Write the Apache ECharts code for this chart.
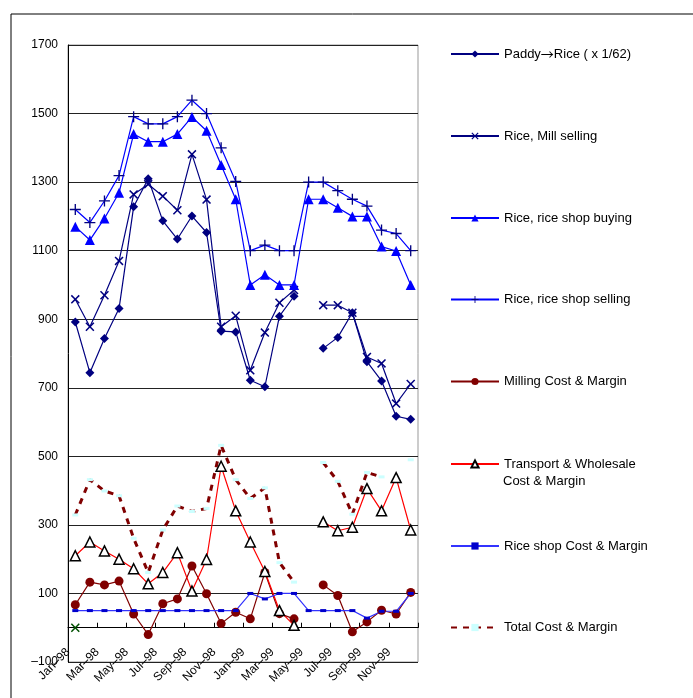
<!DOCTYPE html>
<html><head><meta charset="utf-8">
<script src="https://cdn.jsdelivr.net/npm/echarts@6/dist/echarts.min.js"></script>
<style>html,body{margin:0;padding:0;background:#fff}#c{width:693px;height:698px}</style>
</head><body><div id="c"></div>
<script>
// ---- data ----
const months = ['Jan-98','Feb-98','Mar-98','Apr-98','May-98','Jun-98','Jul-98','Aug-98','Sep-98','Oct-98','Nov-98','Dec-98',
                'Jan-99','Feb-99','Mar-99','Apr-99','May-99','Jun-99','Jul-99','Aug-99','Sep-99','Oct-99','Nov-99','Dec-99'];
const paddyRice    = [892, 744, 844, 931, 1228, 1310, 1187, 1134, 1201, 1153, 865, 863, 722, 703, 909, 967, null, 815, 847, 919, 776, 720, 617, 608];
const millSelling  = [958, 878, 970, 1070, 1264, 1294, 1259, 1218, 1381, 1249, 878, 910, 751, 861, 948, 985, null, 941, 941, 919, 790, 771, 654, 711];
const shopBuying   = [1170, 1131, 1194, 1269, 1440, 1418, 1418, 1440, 1490, 1450, 1350, 1250, 1000, 1030, 1000, 1000, 1250, 1250, 1225, 1200, 1200, 1112, 1099, 1000];
const shopSelling  = [1220, 1182, 1245, 1319, 1491, 1470, 1470, 1491, 1539, 1500, 1400, 1302, 1100, 1116, 1100, 1100, 1300, 1300, 1275, 1250, 1230, 1160, 1150, 1100];
const millingCM    = [67, 133, 125, 136, 40, -20, 70, 84, 180, 99, 12, 45, 26, 161, 41, 26, null, 125, 94, -12, 17, 51, 40, 103];
const transportCM  = [210, 250, 224, 200, 172, 128, 161, 219, 107, 199, 471, 341, 250, 164, 50, 7, null, 309, 283, 293, 406, 341, 438, 285];
const shopCM       = [50, 50, 50, 50, 50, 50, 50, 50, 50, 50, 50, 50, 100, 84, 100, 100, 50, 50, 50, 50, 28, 48, 48, 100];
const totalCM      = [329, 432, 399, 385, 261, 161, 285, 355, 339, 348, 532, 432, 377, 408, 190, 133, null, 482, 427, 331, 453, 440, null, 490];
const extraPoint   = [0, null, null, null, null, null, null, null, null, null, null, null, null, null, null, null, null, null, null, null, null, null, null, null];
const seriesNames  = ['Paddy→Rice ( x 1/62)', 'Rice, Mill selling', 'Rice, rice shop buying', 'Rice, rice shop selling',
                      'Milling Cost & Margin', 'Transport & Wholesale Cost & Margin', 'Rice shop Cost & Margin', 'Total Cost & Margin'];
const yMin = -100, yMax = 1700, yStep = 200;

// ---- style ----
const FONT = '"Liberation Sans", Arial, sans-serif';
const X_PATH = 'path://M0,1.2L1.2,0L5,3.8L8.8,0L10,1.2L6.2,5L10,8.8L8.8,10L5,6.2L1.2,10L0,8.8L3.8,5Z';
const PLUS_PATH = 'path://M4.4,0L5.6,0L5.6,4.4L10,4.4L10,5.6L5.6,5.6L5.6,10L4.4,10L4.4,5.6L0,5.6L0,4.4L4.4,4.4Z';
const NAVY = '#000080', BLUE = '#0000ff', DRED = '#800000';

function lineSeries(name, data, color, symbol, size, extra) {
  return Object.assign({
    name, type: 'line', data, symbol, symbolSize: size, showSymbol: true, showAllSymbol: true,
    connectNulls: false, animation: false,
    lineStyle: { color, width: 1.2 },
    itemStyle: { color }
  }, extra || {});
}

const series = [
  lineSeries(seriesNames[0], paddyRice, NAVY, 'diamond', 9),
  lineSeries(seriesNames[1], millSelling, NAVY, X_PATH, 9),
  lineSeries(seriesNames[2], shopBuying, BLUE, 'triangle', 10),
  lineSeries(seriesNames[3], shopSelling, BLUE, PLUS_PATH, 11, { itemStyle: { color: NAVY } }),
  lineSeries(seriesNames[4], millingCM, DRED, 'circle', 9),
  lineSeries(seriesNames[5], transportCM, '#ff0000', 'triangle', 10,
    { itemStyle: { color: '#ffffff', borderColor: '#000', borderWidth: 1.5 } }),
  lineSeries(seriesNames[6], shopCM, '#3333ff', 'rect', [6, 3], { itemStyle: { color: '#0000cc' } }),
  lineSeries(seriesNames[7], totalCM, DRED, 'rect', [6, 3],
    { lineStyle: { color: DRED, width: 3, type: [6, 6] }, itemStyle: { color: '#ccffff' } }),
  lineSeries('extra', extraPoint, '#005000', X_PATH, 9)
];

const legendCenters = [54, 136, 218, 299.5, 381.5, 464, 546, 627.5];
const legendFormat = (i) => {
  if (i === 0) return () => '{a|Paddy}{b|→}{a|Rice ( x 1/62)}';
  if (i === 5) return () => 'Transport & Wholesale';
  return undefined;
};
const legends = seriesNames.map((n, i) => ({
  data: [n], orient: 'vertical', left: 450, top: legendCenters[i] - 6.5, padding: 0,
  itemWidth: 48, itemHeight: 9, itemGap: 0, selectedMode: false,
  formatter: legendFormat(i),
  textStyle: { fontSize: 13, color: '#000', fontFamily: FONT,
    rich: { a: { fontSize: 13, fontFamily: FONT, color: '#000' },
            b: { fontSize: 13, fontFamily: '"Noto Sans CJK JP"', color: '#000' } } }
}));

const chart = echarts.init(document.getElementById('c'));
chart.setOption({
  backgroundColor: '#fff',
  animation: false,
  textStyle: { fontFamily: FONT },
  grid: { left: 68, top: 45, width: 350, height: 617, show: true, borderColor: '#999', borderWidth: 1,
          containLabel: false, outerBoundsMode: 'none' },
  legend: legends,
  xAxis: {
    type: 'category', data: months, boundaryGap: true,
    axisLine: { onZero: true, lineStyle: { color: '#000', width: 1 } },
    axisTick: { show: true, inside: true, length: 5, interval: 1, lineStyle: { color: '#000' } },
    axisLabel: { interval: 1, rotate: 45, fontSize: 12, color: '#000', fontFamily: FONT, margin: -19,
                 padding: [0, 10, 0, 0], formatter: v => v.replace('-', '–') },
    splitLine: { show: false }
  },
  yAxis: {
    type: 'value', min: yMin, max: yMax, interval: yStep,
    axisLine: { show: true, lineStyle: { color: '#000' } },
    axisTick: { show: false },
    axisLabel: { fontSize: 12, color: '#000', margin: 10, fontFamily: FONT,
                 formatter: v => v < 0 ? '–' + (-v) : String(v) },
    splitLine: { lineStyle: { color: '#222', width: 1 } }
  },
  graphic: [
    { type: 'rect', shape: { x: 11, y: 14, width: 900, height: 900 }, style: { fill: 'none', stroke: '#000', lineWidth: 1 }, silent: true, z: -1 },
    { type: 'text', left: 503, top: 475, style: { text: 'Cost & Margin', fontSize: 13, fill: '#000', fontFamily: FONT } }
  ],
  series
});
</script>
</body></html>
